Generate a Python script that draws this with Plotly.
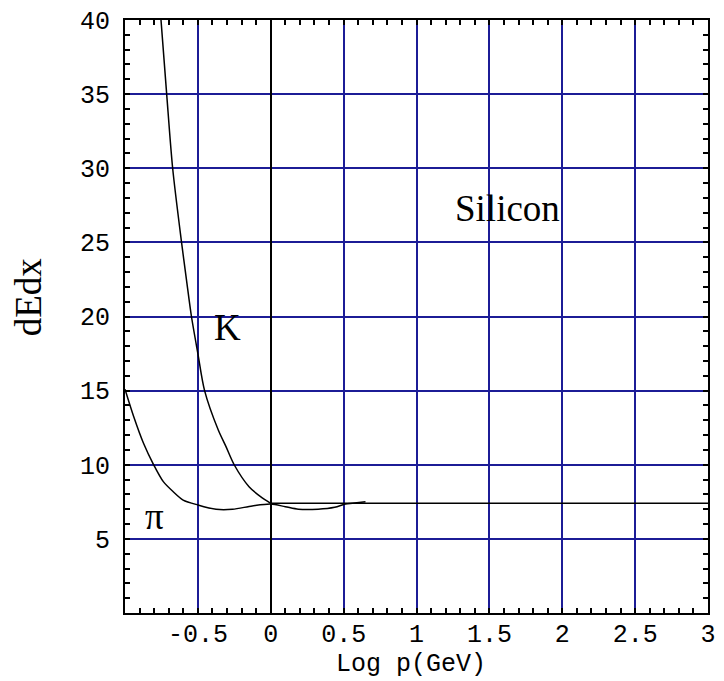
import plotly.graph_objects as go

# K curve (log p, dE/dx); the last two points form the plateau
k_logp = [-0.753, -0.714, -0.673, -0.612, -0.578, -0.544, -0.5, -0.454, -0.36, -0.307,
          -0.251, -0.149, -0.07, 0.0, 3.0]
k_dedx = [40.0, 35.0, 30.0, 25.0, 22.46, 20.0, 17.5, 15.0, 12.34, 11.22,
          10.0, 8.52, 7.85, 7.4, 7.4]

# pi curve
pi_logp = [-1.0, -0.94, -0.873, -0.805, -0.737, -0.669, -0.601, -0.5, -0.375, -0.262,
           -0.127, 0.0, 0.1, 0.19, 0.325, 0.439, 0.513, 0.56, 0.65]
pi_dedx = [15.1, 13.24, 11.45, 10.03, 8.86, 8.18, 7.62, 7.29, 7.0, 7.0,
           7.22, 7.35, 7.17, 7.0, 7.0, 7.13, 7.35, 7.4, 7.5]

x_ticks = [-0.5, 0, 0.5, 1, 1.5, 2, 2.5, 3]
x_ticktext = ["-0.5", "0", "0.5", "1", "1.5", "2", "2.5", "3"]
y_ticks = [5, 10, 15, 20, 25, 30, 35, 40]
y_ticktext = ["5", "10", "15", "20", "25", "30", "35", "40"]

labels = [("Silicon", 1.627, 27.3), ("K", -0.295, 19.26), ("π", -0.8, 6.5)]

GRID = "#1c1c96"
MONO = "Courier New, Liberation Mono, monospace"
SERIF = "Times New Roman, Liberation Serif, serif"

fig = go.Figure()
fig.add_trace(go.Scatter(x=k_logp[:-1], y=k_dedx[:-1], mode="lines",
                         line=dict(color="black", width=1.5, shape="spline", smoothing=0.8),
                         showlegend=False))
fig.add_trace(go.Scatter(x=k_logp[-2:], y=k_dedx[-2:], mode="lines",
                         line=dict(color="black", width=1.5),
                         showlegend=False))
fig.add_trace(go.Scatter(x=pi_logp, y=pi_dedx, mode="lines",
                         line=dict(color="black", width=1.5, shape="spline", smoothing=0.8),
                         showlegend=False))

for txt, lx, ly in labels:
    fig.add_annotation(x=lx, y=ly, xref="x", yref="y", text=txt, showarrow=False,
                       font=dict(family=SERIF, size=37, color="black"),
                       xanchor="center", yanchor="middle")

fig.add_annotation(x=(415 - 125) / 591, y=(613 - 664) / 593, xref="paper", yref="paper",
                   text="Log p(GeV)", showarrow=False,
                   font=dict(family=MONO, size=25, color="black"),
                   xanchor="center", yanchor="middle")
fig.add_annotation(x=(27 - 125) / 591, y=(613 - 297) / 593, xref="paper", yref="paper",
                   text="dEdx", showarrow=False, textangle=-90,
                   font=dict(family=SERIF, size=37, color="black"),
                   xanchor="center", yanchor="middle")

fig.update_layout(
    width=724, height=681,
    margin=dict(l=125, r=8, t=20, b=68),
    paper_bgcolor="white", plot_bgcolor="white",
    xaxis=dict(range=[-1, 3], tickvals=x_ticks, ticktext=x_ticktext,
               showgrid=True, gridcolor=GRID, gridwidth=2,
               zeroline=True, zerolinecolor="black", zerolinewidth=2,
               showline=True, linecolor="black", linewidth=2, mirror="allticks",
               ticks="inside", ticklen=5, tickcolor="black", tickwidth=1.5,
               minor=dict(dtick=0.1, tick0=0, ticks="inside", ticklen=5, tickcolor="black",
                          tickwidth=1.5, showgrid=False),
               tickfont=dict(family=MONO, size=25, color="black"),
               ticklabelstandoff=-3),
    yaxis=dict(range=[0, 40], tickvals=y_ticks, ticktext=y_ticktext,
               showgrid=True, gridcolor=GRID, gridwidth=2,
               zeroline=False,
               showline=True, linecolor="black", linewidth=2, mirror="allticks",
               ticks="inside", ticklen=5, tickcolor="black", tickwidth=1.5,
               minor=dict(dtick=1, tick0=0, ticks="inside", ticklen=5, tickcolor="black",
                          tickwidth=1.5, showgrid=False),
               tickfont=dict(family=MONO, size=25, color="black"),
               ticklabelstandoff=8),
)

fig.write_html("out.html")
